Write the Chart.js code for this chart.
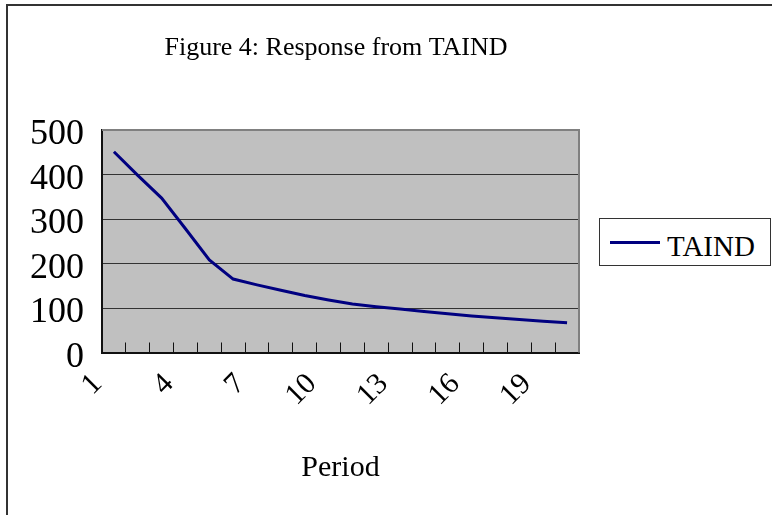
<!DOCTYPE html>
<html>
<head>
<meta charset="utf-8">
<script src="https://cdn.jsdelivr.net/npm/chart.js@4/dist/chart.umd.min.js"></script>
<style>
  html, body { margin: 0; padding: 0; background: #fff; overflow: hidden; width: 772px; height: 515px; }
  #wrap { position: relative; width: 772px; height: 515px; }
  #c { position: absolute; left: 0; top: 0; display: block; }
  #frame { position: absolute; left: 6px; top: 4px; width: 2000px; height: 2000px;
           border-left: 2px solid #333; border-top: 2px solid #333; pointer-events: none; }
  #legend { position: absolute; left: 599px; top: 218px; width: 170px; height: 46px;
            border: 1px solid #333; background: #fff; }
  #legend .swatch { position: absolute; left: 10px; top: 22px; width: 50px; height: 3px; }
  #legend .txt { position: absolute; left: 67px; top: 10.7px; line-height: 29px;
                 font: 29px "Liberation Serif", "Times New Roman", serif; color: #000; white-space: nowrap; }
</style>
</head>
<body>
<div id="wrap">
  <canvas id="c" width="772" height="515"></canvas>
  <div id="legend"></div>
  <div id="frame"></div>
</div>
<script>
// ---- data ----
const chartTitle = 'Figure 4: Response from TAIND';
const xAxisTitle = 'Period';
const periods = ['1','2','3','4','5','6','7','8','9','10','11','12','13','14','15','16','17','18','19','20'];
const seriesName = 'TAIND';
const taindValues = [451, 398, 347, 278, 208, 165, 152, 140, 128, 118, 109, 103, 98, 92, 87, 82, 78, 74, 70, 67];
const yTicks = [0, 100, 200, 300, 400, 500];
const seriesColor = '#000080';

const FONT = '"Liberation Serif", "Times New Roman", serif';
Chart.defaults.color = '#000';
Chart.defaults.font.family = FONT;

const plotBg = {
  id: 'plotBg',
  beforeDraw(chart) {
    const { ctx, chartArea: a } = chart;
    ctx.save();
    ctx.fillStyle = '#C0C0C0';
    ctx.fillRect(a.left, a.top, a.right - a.left, a.bottom - a.top);
    ctx.restore();
  },
  beforeDatasetsDraw(chart) {
    const { ctx, chartArea: a } = chart;
    ctx.save();
    ctx.strokeStyle = '#808080';
    ctx.lineWidth = 2;
    ctx.beginPath();
    ctx.moveTo(a.left, a.top);
    ctx.lineTo(a.right, a.top);
    ctx.lineTo(a.right, a.bottom);
    ctx.stroke();
    ctx.restore();
  }
};

const chart = new Chart(document.getElementById('c'), {
  type: 'line',
  data: {
    labels: periods,
    datasets: [{
      label: seriesName,
      data: taindValues,
      borderColor: seriesColor,
      backgroundColor: seriesColor,
      borderWidth: 3,
      pointRadius: 0,
      tension: 0,
      fill: false
    }]
  },
  options: {
    responsive: false,
    animation: false,
    layout: { padding: { left: 0, top: 0, bottom: 0, right: 100 } },
    plugins: {
      legend: { display: false },
      tooltip: { enabled: false },
      title: {
        display: true,
        text: chartTitle,
        font: { size: 26, weight: 'normal', family: FONT },
        color: '#000',
        padding: { top: 32.9, bottom: 65.9 }
      }
    },
    scales: {
      x: {
        type: 'category',
        offset: true,
        grid: { offset: true, drawOnChartArea: false, drawTicks: true, tickLength: -10, color: '#111', lineWidth: 1 },
        border: { display: true, color: '#111', width: 2 },
        ticks: {
          autoSkip: false,
          minRotation: 45,
          maxRotation: 45,
          padding: 24,
          labelOffset: -16.5,
          font: { size: 30, family: FONT },
          callback: function(v, i) { return i % 3 === 0 ? this.getLabelForValue(v) : ''; }
        },
        title: {
          display: true,
          text: xAxisTitle,
          font: { size: 30, family: FONT },
          padding: { top: 0, bottom: 29 }
        },
        afterFit(s) { s.height = 162.5; }
      },
      y: {
        min: 0,
        max: 500,
        afterBuildTicks(s) { s.ticks = yTicks.map(v => ({ value: v })); },
        grid: {
          drawTicks: false,
          color: (c) => (c.tick && c.tick.value === 500) ? 'rgba(0,0,0,0)' : '#333',
          lineWidth: 1
        },
        border: { display: true, color: '#111', width: 2 },
        ticks: { autoSkip: false, padding: 18, labelOffset: 5, font: { size: 36, family: FONT } },
        afterFit(s) { s.width = 102; }
      },
      y2: {
        position: 'right',
        display: true,
        grid: { display: false, drawOnChartArea: false, drawTicks: false },
        border: { display: false },
        ticks: { display: false },
        afterFit(s) { s.width = 93; }
      }
    }
  },
  plugins: [plotBg]
});

// legend built from the dataset
const lg = document.getElementById('legend');
chart.data.datasets.forEach(ds => {
  const sw = document.createElement('div');
  sw.className = 'swatch';
  sw.style.background = ds.borderColor;
  const t = document.createElement('div');
  t.className = 'txt';
  t.textContent = ds.label;
  lg.appendChild(sw);
  lg.appendChild(t);
});
</script>
</body>
</html>
